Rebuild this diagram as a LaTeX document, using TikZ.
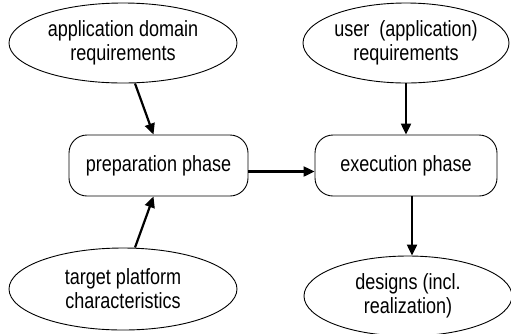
\documentclass[tikz,border=0pt]{standalone}
\usepackage{fontspec}
\setmainfont[FakeStretch=0.82]{Liberation Sans}
\usetikzlibrary{shapes.geometric,arrows.meta,calc}
\begin{document}
\begin{tikzpicture}[x=1pt,y=-1pt,
  every node/.style={font=\fontsize{22}{24}\selectfont, align=center, inner sep=0pt},
  oval/.style={draw, ellipse, line width=0.9pt},
  phase/.style={draw, rectangle, rounded corners=18pt, minimum width=179pt, minimum height=61pt, line width=0.9pt},
  conn/.style={line width=2.2pt, -{Triangle[length=11pt,width=10pt]}}]
\useasboundingbox (0,0) rectangle (511,333);
\node[oval, minimum width=228pt, minimum height=80pt] (A) at (123,43) {application domain\\requirements};
\node[oval, minimum width=206pt, minimum height=80pt] (B) at (406,43) {user\ \ (application)\\requirements};
\node[phase] (P) at (158.5,165.5) {preparation phase};
\node[phase, minimum width=182pt] (E) at (406,165.5) {execution phase};
\node[oval, minimum width=228pt, minimum height=82pt] (C) at (123,289) {target platform\\characteristics};
\node[oval, minimum width=208pt, minimum height=80pt] (D) at (408,296) {designs (incl.\\realization)};
\draw[conn] ([xshift=12pt]A.south) -- ([xshift=-5pt]P.north);
\draw[conn] ([xshift=12pt]C.north) -- ([xshift=-5pt]P.south);
\draw[conn] (B.south) -- (E.north);
\draw[conn] ([yshift=-6pt]P.east) -- ([yshift=-6pt]E.west);
\draw[conn] ([xshift=6pt]E.south) -- ([xshift=4pt]D.north);
\end{tikzpicture}
\end{document}
